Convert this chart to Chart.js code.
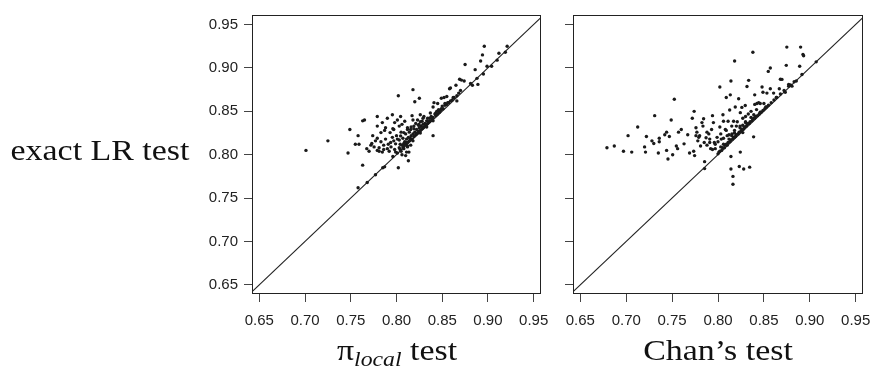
<!DOCTYPE html>
<html><head><meta charset="utf-8">
<script src="https://cdn.jsdelivr.net/npm/chart.js@4"></script>
<style>
html,body{margin:0;padding:0;background:#fff;width:871px;height:369px;overflow:hidden;position:relative}
canvas{position:absolute;top:0}
#c1{left:190px}
#c2{left:550px}
.t{position:absolute;font-family:"Liberation Serif","Times New Roman",serif;font-size:30px;color:#111;white-space:nowrap;line-height:1;transform:translate(-50%,-50%) scaleX(1.13)}
.t sub{font-style:italic;font-size:21px;vertical-align:-6px;line-height:0}
</style></head><body>
<canvas id="c1" width="370" height="340"></canvas>
<canvas id="c2" width="332" height="340"></canvas>
<div class="t" style="left:100px;top:150px">exact LR test</div>
<div class="t" style="left:397px;top:350px">π<sub>local</sub> test</div>
<div class="t" style="left:718px;top:350px">Chan’s test</div>
<script>
const tickValues = [0.65, 0.70, 0.75, 0.80, 0.85, 0.90, 0.95];
const xRange = [0.6420, 0.9580];
const yRange = [0.6395, 0.9610];
const diagonal = [0.60, 1.00];

// [pi_local test, exact LR test]
const piLocalVsExact = [
[0.701,0.805],[0.725,0.816],[0.749,0.829],[0.747,0.802],[0.758,0.822],[0.755,0.812],[0.759,0.812],[0.763,0.839],[0.765,0.840],[0.763,0.788],[0.758,0.762],[0.768,0.768],[0.777,0.777],[0.785,0.785],[0.787,0.786],[0.802,0.785],[0.813,0.793],[0.802,0.868],[0.818,0.875],[0.825,0.865],[0.820,0.861],[0.840,0.822],
[0.875,0.904],[0.896,0.925],[0.894,0.915],[0.892,0.908],[0.921,0.925],[0.912,0.917],[0.919,0.918],[0.910,0.909],[0.904,0.902],[0.899,0.902],[0.895,0.893],[0.886,0.898],[0.888,0.888],[0.889,0.881],[0.883,0.880],[0.881,0.882],[0.869,0.887],[0.871,0.886],[0.874,0.885],[0.865,0.880],[0.859,0.877],[0.858,0.876],[0.852,0.866],[0.849,0.865],[0.866,0.862],[0.862,0.866],[0.855,0.867],[0.845,0.859],[0.841,0.860],[0.840,0.855],
[0.7955,0.846],[0.790,0.842],[0.7845,0.837],[0.779,0.833],[0.779,0.844],[0.787,0.828],[0.8045,0.844],[0.809,0.8385],[0.817,0.845],[0.818,0.840],[0.823,0.840],[0.826,0.846],[0.830,0.844],[0.801,0.840],[0.774,0.822],[0.772,0.811],[0.7675,0.807],[0.7755,0.809],[0.779,0.805],[0.781,0.804],[0.7845,0.803],[0.786,0.811],[0.790,0.807],[0.7936,0.814],[0.7955,0.820],[0.793,0.8255],[0.797,0.829],[0.799,0.8125],[0.801,0.818],[0.8045,0.8217],[0.808,0.8255],[0.810,0.814],[0.812,0.809],[0.8136,0.803],[0.810,0.799],[0.8155,0.811],
[0.777,0.816],[0.783,0.8255],[0.788,0.831],[0.798,0.837],[0.803,0.833],[0.806,0.835],[0.812,0.831],[0.8155,0.829],[0.819,0.833],[0.8245,0.835],[0.828,0.8385],[0.834,0.842],[0.837,0.848],[0.843,0.848],[0.846,0.850],[0.849,0.853],
[0.796,0.798],[0.799,0.803],[0.801,0.802],[0.803,0.808],[0.804,0.806],[0.806,0.811],[0.807,0.808],[0.808,0.813],[0.809,0.815],[0.810,0.812],[0.811,0.818],[0.812,0.814],[0.813,0.820],[0.814,0.816],[0.815,0.819],[0.816,0.822],[0.817,0.818],[0.818,0.824],[0.819,0.821],[0.820,0.826],[0.821,0.823],[0.822,0.829],[0.823,0.825],[0.824,0.827],[0.825,0.831],[0.826,0.828],[0.827,0.833],[0.828,0.830],[0.829,0.835],[0.830,0.832],[0.831,0.836],[0.832,0.834],[0.833,0.839],[0.834,0.836],[0.835,0.838],[0.836,0.842],[0.837,0.839],[0.838,0.844],[0.839,0.841],[0.840,0.843],[0.842,0.847],[0.843,0.845],[0.844,0.850],[0.845,0.847],[0.846,0.852],[0.847,0.849],[0.848,0.851],[0.850,0.856],[0.851,0.853],[0.853,0.857],[0.855,0.858],[0.857,0.860],[0.859,0.862],[0.861,0.863],[0.863,0.866],[0.866,0.868],[0.868,0.871],[0.870,0.874],[0.805,0.804],[0.812,0.810],[0.818,0.816],[0.826,0.825],[0.833,0.832],[0.840,0.839],
[0.783,0.815],[0.788,0.818],[0.791,0.812],[0.794,0.809],[0.797,0.816],[0.800,0.822],[0.803,0.817],[0.805,0.826],[0.807,0.819],[0.810,0.824],[0.812,0.829],[0.814,0.826],[0.816,0.832],[0.819,0.830],[0.821,0.836],[0.824,0.834],[0.826,0.838],[0.829,0.842],[0.786,0.806],[0.792,0.804],[0.798,0.806],[0.804,0.812],[0.808,0.807],[0.811,0.803],[0.806,0.800],[0.779,0.819],[0.773,0.813],[0.770,0.804],[0.781,0.808],[0.796,0.830],
[0.808,0.810],[0.815,0.817],[0.822,0.824],[0.829,0.831],[0.836,0.838],[0.843,0.846],[0.849,0.852],[0.856,0.860],[0.853,0.859]
];

// [Chan's test, exact LR test]
const chanVsExact = [
[0.679,0.808],[0.687,0.810],[0.697,0.804],[0.706,0.803],[0.702,0.822],[0.7125,0.832],[0.722,0.821],[0.721,0.803],[0.720,0.809],[0.728,0.816],[0.730,0.813],[0.731,0.845],[0.736,0.819],[0.736,0.815],[0.735,0.802],[0.742,0.823],[0.744,0.826],[0.747,0.821],[0.744,0.805],[0.7455,0.795],[0.749,0.840],[0.7506,0.800],[0.7524,0.864],[0.7546,0.810],[0.756,0.807],[0.757,0.826],[0.760,0.829],[0.763,0.8125],[0.767,0.823],[0.769,0.802],[0.772,0.842],[0.774,0.850],[0.7735,0.804],[0.7745,0.799],[0.776,0.831],[0.776,0.822],[0.777,0.826],[0.778,0.816],[0.779,0.820],[0.780,0.822],[0.781,0.810],[0.7825,0.837],[0.7836,0.833],[0.7843,0.8415],[0.7854,0.792],[0.7854,0.784],[0.787,0.8195],[0.788,0.811],[0.790,0.824],[0.791,0.814],[0.792,0.807],[0.793,0.829],[0.794,0.845],[0.795,0.837],[0.796,0.814],[0.797,0.807],[0.799,0.820],[0.802,0.878],[0.802,0.832],[0.8036,0.818],[0.8054,0.846],[0.806,0.8385],[0.808,0.829],[0.809,0.866],[0.810,0.822],[0.811,0.8385],[0.8127,0.8515],[0.8134,0.869],[0.8141,0.885],[0.8141,0.798],[0.8141,0.7835],[0.8152,0.824],[0.8163,0.775],[0.8163,0.766],[0.817,0.8385],[0.8181,0.908],[0.8188,0.855],[0.820,0.833],[0.8225,0.8645],[0.8232,0.7864],[0.8243,0.803],[0.8243,0.8485],[0.826,0.8545],[0.828,0.7835],[0.827,0.8255],[0.8297,0.8567],[0.830,0.844],[0.8316,0.8786],[0.8334,0.8857],[0.8345,0.7857],[0.838,0.918],[0.8388,0.8206],[0.840,0.869],[0.840,0.858],[0.8424,0.859],[0.8443,0.860],[0.846,0.859],[0.848,0.878],[0.849,0.872],[0.850,0.859],[0.8533,0.871],[0.8548,0.896],[0.857,0.900],[0.857,0.876],[0.8606,0.871],[0.8635,0.866],[0.8668,0.876],[0.868,0.887],[0.8697,0.8868],[0.8733,0.872],[0.8744,0.903],[0.875,0.924],[0.877,0.881],[0.879,0.8805],[0.8806,0.879],[0.8853,0.885],[0.889,0.902],[0.890,0.924],[0.8915,0.8924],[0.8926,0.9154],[0.8933,0.914],[0.907,0.907],
[0.800,0.801],[0.802,0.804],[0.804,0.805],[0.805,0.808],[0.807,0.808],[0.808,0.811],[0.810,0.811],[0.811,0.814],[0.813,0.815],[0.814,0.817],[0.816,0.818],[0.817,0.820],[0.819,0.821],[0.820,0.823],[0.822,0.824],[0.823,0.826],[0.825,0.827],[0.826,0.829],[0.828,0.830],[0.829,0.832],[0.831,0.833],[0.832,0.835],[0.834,0.836],[0.835,0.838],[0.837,0.839],[0.838,0.841],[0.840,0.842],[0.841,0.844],[0.843,0.845],[0.845,0.847],[0.847,0.849],[0.849,0.851],[0.851,0.853],[0.853,0.855],[0.855,0.857],[0.858,0.860],[0.861,0.863],[0.864,0.866],[0.868,0.870],[0.872,0.874],[0.877,0.879],[0.883,0.884],[0.806,0.812],[0.812,0.818],[0.818,0.825],[0.824,0.831],[0.830,0.837],[0.836,0.843],[0.803,0.809],[0.815,0.822],[0.827,0.834],
[0.800,0.815],[0.803,0.824],[0.806,0.819],[0.809,0.828],[0.812,0.823],[0.815,0.833],[0.818,0.828],[0.821,0.838],[0.824,0.833],[0.827,0.842],[0.830,0.838],[0.833,0.847],[0.836,0.850],[0.839,0.846],[0.842,0.852],[0.797,0.812],[0.794,0.806],[0.791,0.818],[0.788,0.826],[0.785,0.814],
[0.801,0.803],[0.809,0.812],[0.818,0.820],[0.827,0.829],[0.833,0.836],[0.839,0.842],[0.846,0.849],[0.852,0.855]
];

const boxPlugin = {
  id: 'box',
  afterDraw(chart) {
    const a = chart.chartArea, c = chart.ctx;
    c.save();
    c.strokeStyle = '#222';
    c.lineWidth = 1;
    c.strokeRect(Math.round(a.left) + 0.5, Math.round(a.top) + 0.5, Math.round(a.right - a.left) - 1, Math.round(a.bottom - a.top) - 1);
    c.restore();
  }
};

function setTicks(s) { s.ticks = tickValues.map(v => ({ value: v })); }

function panel(id, pts, yWidth, showYLabels, padRight) {
  return new Chart(document.getElementById(id), {
    type: 'scatter',
    data: { datasets: [
      { data: pts.map(p => ({ x: p[0], y: p[1] })), pointRadius: 1.7, pointBackgroundColor: '#1a1a1a', pointBorderWidth: 0, pointStyle: 'circle', showLine: false },
      { type: 'line', data: diagonal.map(v => ({ x: v, y: v })), borderColor: '#222', borderWidth: 1.1, pointRadius: 0, fill: false, clip: 0 }
    ]},
    options: {
      responsive: false, animation: false, events: [],
      layout: { padding: { top: 5, right: padRight, bottom: 0, left: 0 } },
      plugins: { legend: { display: false }, tooltip: { enabled: false } },
      scales: {
        x: {
          type: 'linear', min: xRange[0], max: xRange[1],
          afterBuildTicks: setTicks,
          afterFit: s => { s.height = 46; },
          grid: { drawOnChartArea: false, drawTicks: true, tickLength: 8, color: '#444', tickWidth: 1 },
          border: { display: false },
          ticks: { font: { family: 'Liberation Sans', size: 15 }, color: '#222', padding: 10, maxRotation: 0, autoSkip: false, callback: v => v.toFixed(2) }
        },
        y: {
          type: 'linear', min: yRange[0], max: yRange[1],
          afterBuildTicks: setTicks,
          afterFit: s => { s.width = yWidth; },
          grid: { drawOnChartArea: false, drawTicks: true, tickLength: 8, color: '#444', tickWidth: 1 },
          border: { display: false },
          ticks: { font: { family: 'Liberation Sans', size: 15 }, color: showYLabels ? '#222' : 'rgba(0,0,0,0)', padding: 6, autoSkip: false, callback: v => v.toFixed(2) }
        }
      }
    },
    plugins: [boxPlugin]
  });
}

panel('c1', piLocalVsExact, 62, true, 19);
panel('c2', chanVsExact, 23, false, 19);
</script>
</body></html>
